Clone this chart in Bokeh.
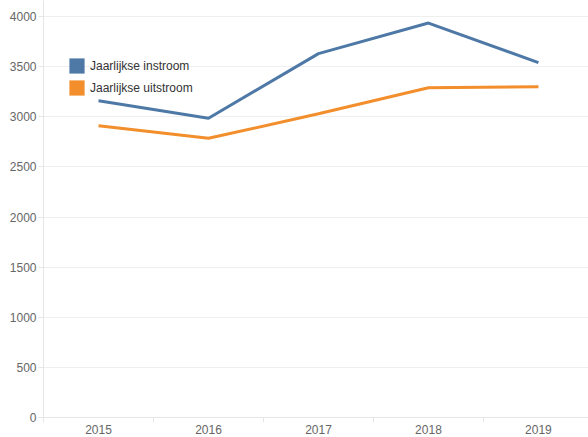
from bokeh.plotting import figure
from bokeh.models import Range1d, FixedTicker, Legend, LegendItem
from bokeh.embed import file_html
from bokeh.resources import INLINE

years = ["2015", "2016", "2017", "2018", "2019"]
instroom = [3160, 2985, 3630, 3935, 3540]
uitstroom = [2910, 2785, 3030, 3290, 3300]
series_names = ["Jaarlijkse instroom", "Jaarlijkse uitstroom"]
colors = ["#4e79a7", "#f28e2b"]
y_ticks = [0, 500, 1000, 1500, 2000, 2500, 3000, 3500, 4000]

FONT = "Liberation Sans"
xs = [i + 0.5 for i in range(len(years))]

p = figure(width=588, height=436, output_backend="svg", toolbar_location=None,
           x_range=Range1d(0, 4.955), y_range=Range1d(0, 4160),
           min_border_left=43, min_border_right=0, min_border_top=0, min_border_bottom=0)
p.outline_line_color = None
p.background_fill_color = "white"

r1 = p.line(xs, instroom, line_color=colors[0], line_width=3)
r2 = p.line(xs, uitstroom, line_color=colors[1], line_width=3)
# legend swatches (hidden renderers, zero-size)
q1 = p.quad(left=xs, right=xs, top=instroom, bottom=instroom,
            fill_color=colors[0], line_color=None, visible=False)
q2 = p.quad(left=xs, right=xs, top=uitstroom, bottom=uitstroom,
            fill_color=colors[1], line_color=None, visible=False)

# x axis
p.xaxis.ticker = FixedTicker(ticks=xs, minor_ticks=list(range(len(years) + 1)))
p.xaxis.major_label_overrides = {x: y for x, y in zip(xs, years)}
p.xaxis.major_tick_line_color = None
p.xaxis.major_tick_out = 0
p.xaxis.major_tick_in = 0
p.xaxis.minor_tick_out = 5
p.xaxis.minor_tick_in = 0
p.xaxis.minor_tick_line_color = "#e6e6e6"
p.xaxis.axis_line_color = "#e6e6e6"
p.xaxis.major_label_standoff = 2
p.xgrid.grid_line_color = None

# y axis
p.yaxis.ticker = FixedTicker(ticks=y_ticks)
p.yaxis.major_tick_out = 5
p.yaxis.major_tick_in = 0
p.yaxis.major_tick_line_color = "#e6e6e6"
p.yaxis.minor_tick_line_color = None
p.yaxis.axis_line_color = "#e6e6e6"
p.yaxis.major_label_standoff = 2
p.ygrid.grid_line_color = "#efefef"

for ax in (p.xaxis, p.yaxis):
    ax.major_label_text_font = FONT
    ax.major_label_text_font_size = "12px"
    ax.major_label_text_color = "#666666"

legend = Legend(items=[LegendItem(label=series_names[0], renderers=[q1]),
                       LegendItem(label=series_names[1], renderers=[q2])],
                location=(24, 320), padding=0, margin=0, spacing=3,
                glyph_width=19, glyph_height=19, label_height=19, label_standoff=4,
                border_line_color=None, background_fill_alpha=0,
                label_text_font=FONT, label_text_font_size="12px",
                label_text_color="#333333")
p.add_layout(legend, "center")

open("out.html", "w").write(file_html(p, INLINE))
